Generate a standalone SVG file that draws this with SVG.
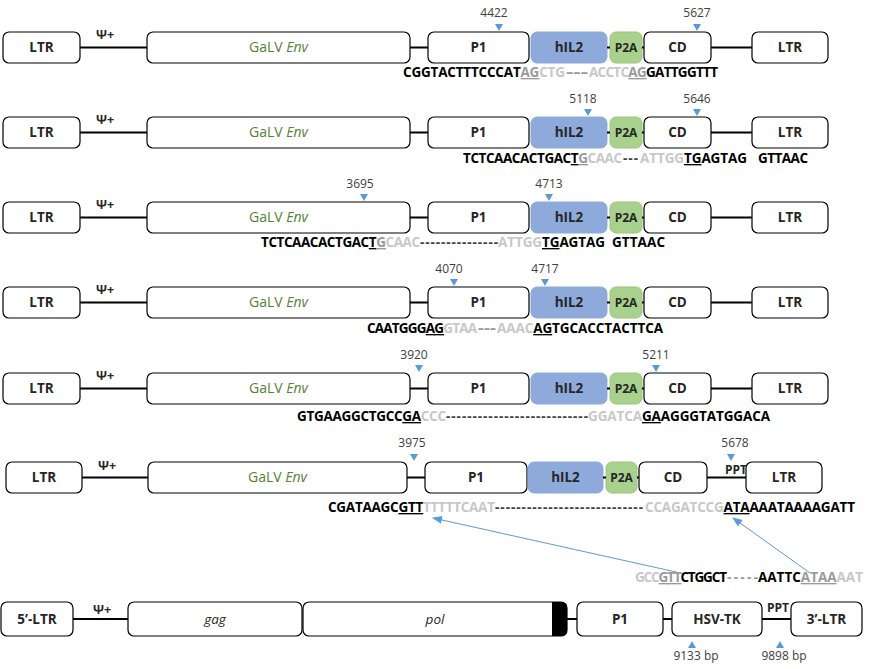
<svg xmlns="http://www.w3.org/2000/svg" width="883" height="669" viewBox="0 0 883 669">
<style>
text{font-family:"Open Sans","Noto Sans","Noto Sans CJK KR",sans-serif}
.box{fill:#fff;stroke:#000;stroke-width:1.2}
.il2{fill:#8eaadb;stroke:#8eaadb;stroke-width:1}
.p2a{fill:#a9d18e;stroke:#9cc47f;stroke-width:1}
.ln{stroke:#000;stroke-width:2.2;fill:none}
.lbl{font-size:13.5px;font-weight:bold;text-anchor:middle;fill:#262626}
.sm{font-size:12px}
.env{font-size:14px;text-anchor:middle;fill:#548235}
.psi{font-size:12.5px;font-weight:bold;text-anchor:middle;fill:#262626}
.num{font-size:12px;text-anchor:middle;fill:#404040}
.tri{fill:#5b9bd5}
.seq{font-size:13.5px;font-weight:bold}
.k{fill:#000}.g{fill:#9a9a9a}.lg{fill:#c8c8c8}.u{text-decoration:underline}
.d1{fill:#9a9a9a}.d2{fill:#444}
.it{font-style:italic;font-weight:normal}
.arr{stroke:#5b9bd5;stroke-width:1;fill:none}
</style>
<defs>
<marker id="ah" markerWidth="10" markerHeight="8" refX="9" refY="4" orient="auto" markerUnits="userSpaceOnUse"><path d="M0,0 L10,4 L0,8 Z" fill="#5b9bd5"/></marker>
</defs>

<!-- Row 1 -->
<g id="row1" transform="translate(0,32)">
<g id="r1-ltr5"><rect class="box" x="3" y="0" width="77" height="31" rx="6"/><text class="lbl" x="41.5" y="20">LTR</text></g>
<g id="r1-psi"><text class="psi" x="105" y="7">Ψ+</text></g>
<g id="r1-env"><rect class="box" x="147" y="0" width="263" height="31" rx="6"/><text class="env" x="278.5" y="20">GaLV <tspan font-style="italic">Env</tspan></text></g>
<g id="r1-p1"><rect class="box" x="428" y="0" width="101" height="31" rx="6"/><text class="lbl" x="478.5" y="20">P1</text></g>
<g id="r1-hil2"><rect class="il2" x="531" y="0" width="76" height="31" rx="6"/><text class="lbl" x="569" y="20">hIL2</text></g>
<g id="r1-p2a"><rect class="p2a" x="610" y="0" width="32" height="31" rx="6"/><text class="lbl sm" x="626" y="20">P2A</text></g>
<g id="r1-cd"><rect class="box" x="644" y="0" width="67" height="31" rx="6"/><text class="lbl" x="677.5" y="20">CD</text></g>
<g id="r1-ltr3"><rect class="box" x="752" y="0" width="76" height="31" rx="6"/><text class="lbl" x="790" y="20">LTR</text></g>
<g id="r1-marks"><text class="num" x="494" y="-15">4422</text><path class="tri" d="M495,-8 L503,-8 L499,-1 Z"/><text class="num" x="697" y="-15">5627</text><path class="tri" d="M693,-8 L701,-8 L697,-1 Z"/></g>
</g>

<!-- Row 2 -->
<g id="row2" transform="translate(0,117)">
<g id="r2-ltr5"><rect class="box" x="3" y="0" width="77" height="31" rx="6"/><text class="lbl" x="41.5" y="20">LTR</text></g>
<g id="r2-psi"><text class="psi" x="105" y="7">Ψ+</text></g>
<g id="r2-env"><rect class="box" x="147" y="0" width="263" height="31" rx="6"/><text class="env" x="278.5" y="20">GaLV <tspan font-style="italic">Env</tspan></text></g>
<g id="r2-p1"><rect class="box" x="428" y="0" width="101" height="31" rx="6"/><text class="lbl" x="478.5" y="20">P1</text></g>
<g id="r2-hil2"><rect class="il2" x="531" y="0" width="76" height="31" rx="6"/><text class="lbl" x="569" y="20">hIL2</text></g>
<g id="r2-p2a"><rect class="p2a" x="610" y="0" width="32" height="31" rx="6"/><text class="lbl sm" x="626" y="20">P2A</text></g>
<g id="r2-cd"><rect class="box" x="644" y="0" width="67" height="31" rx="6"/><text class="lbl" x="677.5" y="20">CD</text></g>
<g id="r2-ltr3"><rect class="box" x="752" y="0" width="76" height="31" rx="6"/><text class="lbl" x="790" y="20">LTR</text></g>
<g id="r2-marks"><text class="num" x="583" y="-14">5118</text><path class="tri" d="M584,-8 L592,-8 L588,-1 Z"/><text class="num" x="697" y="-14">5646</text><path class="tri" d="M693,-8 L701,-8 L697,-1 Z"/></g>
</g>

<!-- Row 3 -->
<g id="row3" transform="translate(0,202)">
<g id="r3-ltr5"><rect class="box" x="3" y="0" width="77" height="31" rx="6"/><text class="lbl" x="41.5" y="20">LTR</text></g>
<g id="r3-psi"><text class="psi" x="105" y="7">Ψ+</text></g>
<g id="r3-env"><rect class="box" x="147" y="0" width="263" height="31" rx="6"/><text class="env" x="278.5" y="20">GaLV <tspan font-style="italic">Env</tspan></text></g>
<g id="r3-p1"><rect class="box" x="428" y="0" width="101" height="31" rx="6"/><text class="lbl" x="478.5" y="20">P1</text></g>
<g id="r3-hil2"><rect class="il2" x="531" y="0" width="76" height="31" rx="6"/><text class="lbl" x="569" y="20">hIL2</text></g>
<g id="r3-p2a"><rect class="p2a" x="610" y="0" width="32" height="31" rx="6"/><text class="lbl sm" x="626" y="20">P2A</text></g>
<g id="r3-cd"><rect class="box" x="644" y="0" width="67" height="31" rx="6"/><text class="lbl" x="677.5" y="20">CD</text></g>
<g id="r3-ltr3"><rect class="box" x="752" y="0" width="76" height="31" rx="6"/><text class="lbl" x="790" y="20">LTR</text></g>
<g id="r3-marks"><text class="num" x="360" y="-14">3695</text><path class="tri" d="M360,-8 L368,-8 L364,-1 Z"/><text class="num" x="549" y="-14">4713</text><path class="tri" d="M545,-8 L553,-8 L549,-1 Z"/></g>
</g>

<!-- Row 4 -->
<g id="row4" transform="translate(0,287)">
<g id="r4-ltr5"><rect class="box" x="3" y="0" width="77" height="31" rx="6"/><text class="lbl" x="41.5" y="20">LTR</text></g>
<g id="r4-psi"><text class="psi" x="105" y="7">Ψ+</text></g>
<g id="r4-env"><rect class="box" x="147" y="0" width="263" height="31" rx="6"/><text class="env" x="278.5" y="20">GaLV <tspan font-style="italic">Env</tspan></text></g>
<g id="r4-p1"><rect class="box" x="428" y="0" width="101" height="31" rx="6"/><text class="lbl" x="478.5" y="20">P1</text></g>
<g id="r4-hil2"><rect class="il2" x="531" y="0" width="76" height="31" rx="6"/><text class="lbl" x="569" y="20">hIL2</text></g>
<g id="r4-p2a"><rect class="p2a" x="610" y="0" width="32" height="31" rx="6"/><text class="lbl sm" x="626" y="20">P2A</text></g>
<g id="r4-cd"><rect class="box" x="644" y="0" width="67" height="31" rx="6"/><text class="lbl" x="677.5" y="20">CD</text></g>
<g id="r4-ltr3"><rect class="box" x="752" y="0" width="76" height="31" rx="6"/><text class="lbl" x="790" y="20">LTR</text></g>
<g id="r4-marks"><text class="num" x="449" y="-14">4070</text><path class="tri" d="M450,-8 L458,-8 L454,-1 Z"/><text class="num" x="545" y="-14">4717</text><path class="tri" d="M541,-8 L549,-8 L545,-1 Z"/></g>
</g>

<!-- Row 5 -->
<g id="row5" transform="translate(0,373)">
<g id="r5-ltr5"><rect class="box" x="3" y="0" width="77" height="31" rx="6"/><text class="lbl" x="41.5" y="20">LTR</text></g>
<g id="r5-psi"><text class="psi" x="105" y="7">Ψ+</text></g>
<g id="r5-env"><rect class="box" x="147" y="0" width="263" height="31" rx="6"/><text class="env" x="278.5" y="20">GaLV <tspan font-style="italic">Env</tspan></text></g>
<g id="r5-p1"><rect class="box" x="428" y="0" width="101" height="31" rx="6"/><text class="lbl" x="478.5" y="20">P1</text></g>
<g id="r5-hil2"><rect class="il2" x="531" y="0" width="76" height="31" rx="6"/><text class="lbl" x="569" y="20">hIL2</text></g>
<g id="r5-p2a"><rect class="p2a" x="610" y="0" width="32" height="31" rx="6"/><text class="lbl sm" x="626" y="20">P2A</text></g>
<g id="r5-cd"><rect class="box" x="644" y="0" width="67" height="31" rx="6"/><text class="lbl" x="677.5" y="20">CD</text></g>
<g id="r5-ltr3"><rect class="box" x="752" y="0" width="76" height="31" rx="6"/><text class="lbl" x="790" y="20">LTR</text></g>
<g id="r5-marks"><text class="num" x="414" y="-14">3920</text><path class="tri" d="M415,-8 L423,-8 L419,-1 Z"/><text class="num" x="656" y="-14">5211</text><path class="tri" d="M652,-8 L660,-8 L656,-1 Z"/></g>
</g>

<!-- Row 6 -->
<g id="row6" transform="translate(0,462)">
<g id="r6-ltr5"><rect class="box" x="6" y="0" width="76" height="31" rx="6"/><text class="lbl" x="44" y="20">LTR</text></g>
<g id="r6-psi"><text class="psi" x="107" y="8">Ψ+</text></g>
<g id="r6-env"><rect class="box" x="148" y="0" width="259" height="31" rx="6"/><text class="env" x="277.5" y="20">GaLV <tspan font-style="italic">Env</tspan></text></g>
<g id="r6-p1"><rect class="box" x="425" y="0" width="102" height="31" rx="6"/><text class="lbl" x="476" y="20">P1</text></g>
<g id="r6-hil2"><rect class="il2" x="528" y="0" width="75" height="31" rx="6"/><text class="lbl" x="565.5" y="20">hIL2</text></g>
<g id="r6-p2a"><rect class="p2a" x="606" y="0" width="31" height="31" rx="6"/><text class="lbl sm" x="621.5" y="20">P2A</text></g>
<g id="r6-cd"><rect class="box" x="639" y="0" width="68" height="31" rx="6"/><text class="lbl" x="673" y="20">CD</text></g>
<g id="r6-ppt"><text class="lbl sm" x="736" y="12">PPT</text></g>
<g id="r6-ltr3"><rect class="box" x="746" y="0" width="76" height="31" rx="6"/><text class="lbl" x="784" y="20">LTR</text></g>
<g id="r6-marks"><text class="num" x="412" y="-15">3975</text><path class="tri" d="M410,-8 L418,-8 L414,-1 Z"/><text class="num" x="735" y="-15">5678</text><path class="tri" d="M727,-8 L735,-8 L731,-1 Z"/></g>
</g>

<!-- Bottom row (packaging construct) -->
<g id="row7">
<g id="b-ltr5"><rect class="box" x="1" y="602" width="72" height="34" rx="6"/><text class="lbl" x="37" y="624">5’-LTR</text></g>
<g id="b-psi"><text class="psi" x="102" y="614" font-weight="normal">Ψ+</text></g>
<g id="b-gag"><rect class="box" x="128" y="602" width="174" height="34" rx="6"/><text class="lbl it" x="215" y="624">gag</text></g>
<g id="b-pol"><rect class="box" x="303" y="602" width="264" height="34" rx="6"/><path d="M552,602 H561 Q567,602 567,608 V630 Q567,636 561,636 H552 Z" fill="#000"/><text class="lbl it" x="435" y="624">pol</text></g>
<g id="b-p1"><rect class="box" x="577" y="602" width="86" height="34" rx="6"/><text class="lbl" x="620" y="624">P1</text></g>
<g id="b-tk"><rect class="box" x="672" y="602" width="90" height="34" rx="6"/><text class="lbl" x="717" y="624">HSV-TK</text></g>
<g id="b-ppt"><text class="lbl sm" x="778" y="612">PPT</text></g>
<g id="b-ltr3"><rect class="box" x="791" y="602" width="71" height="34" rx="6"/><text class="lbl" x="826.5" y="624">3’-LTR</text></g>
<g id="b-marks"><path class="tri" d="M688,648 L696,648 L692,641 Z"/><text class="num" x="696" y="660">9133 bp</text><path class="tri" d="M776,648 L784,648 L780,641 Z"/><text class="num" x="784" y="660">9898 bp</text></g>
</g>

<!-- Connectors -->
<g id="connectors">
<path class="ln" d="M80,47.5H147M410,47.5H428M607,47.5H610M642,47.5H644M711,47.5H752"/>
<path class="ln" d="M80,132.5H147M410,132.5H428M607,132.5H610M642,132.5H644M711,132.5H752"/>
<path class="ln" d="M80,217.5H147M410,217.5H428M607,217.5H610M642,217.5H644M711,217.5H752"/>
<path class="ln" d="M80,302.5H147M410,302.5H428M607,302.5H610M642,302.5H644M711,302.5H752"/>
<path class="ln" d="M80,388.5H147M410,388.5H428M607,388.5H610M642,388.5H644M711,388.5H752"/>
<path class="ln" d="M82,477.5H148M407,477.5H425M603,477.5H606M637,477.5H639M707,477.5H746"/>
<path class="ln" d="M73,619H128M567,619H577M663,619H672M762,619H791"/>
<path class="arr" d="M685,574L433,518" marker-end="url(#ah)"/>
<path class="arr" d="M810,573L733,518" marker-end="url(#ah)"/>
</g>

<!-- Sequences -->
<g id="sequences" class="seq">
<text class="seq" x="403" y="77" textLength="162"><tspan class="k">CGGTACTTTCCCAT</tspan><tspan class="g u">AG</tspan><tspan class="lg">CTG</tspan></text>
<text class="seq d1" x="566" y="77" textLength="22" lengthAdjust="spacingAndGlyphs">---</text>
<text class="seq" x="589" y="77" textLength="129"><tspan class="lg">ACCTC</tspan><tspan class="g u">AG</tspan><tspan class="k">GATTGGTTT</tspan></text>

<text class="seq" x="463" y="163" textLength="159"><tspan class="k">TCTCAACACTGAC</tspan><tspan class="k u">T</tspan><tspan class="g u">G</tspan><tspan class="lg">CAAC</tspan></text>
<text class="seq d2" x="623" y="163" textLength="15">---</text>
<text class="seq" x="640" y="163" textLength="107"><tspan class="lg">ATTGG</tspan><tspan class="k u">TG</tspan><tspan class="k">AGTAG</tspan></text>
<text class="seq k" x="758" y="163" textLength="50">GTTAAC</text>

<text class="seq" x="261" y="247" textLength="159"><tspan class="k">TCTCAACACTGAC</tspan><tspan class="k u">T</tspan><tspan class="g u">G</tspan><tspan class="lg">CAAC</tspan></text>
<text class="seq d2" x="420" y="247" textLength="78">---------------</text>
<text class="seq" x="498" y="247" textLength="107"><tspan class="lg">ATTGG</tspan><tspan class="k u">TG</tspan><tspan class="k">AGTAG</tspan></text>
<text class="seq k" x="612" y="247" textLength="53">GTTAAC</text>

<text class="seq" x="367" y="333" textLength="110"><tspan class="k">CAATGGG</tspan><tspan class="k u">AG</tspan><tspan class="lg">GTAA</tspan></text>
<text class="seq d1" x="478" y="333" textLength="18" lengthAdjust="spacingAndGlyphs">---</text>
<text class="seq" x="497" y="333" textLength="166"><tspan class="lg">AAAC</tspan><tspan class="k u">AG</tspan><tspan class="k">TGCACCTACTTCA</tspan></text>

<text class="seq" x="297" y="421" textLength="149"><tspan class="k">GTGAAGGCTGCC</tspan><tspan class="k u">GA</tspan><tspan class="lg">CCC</tspan></text>
<text class="seq d2" x="446" y="421" textLength="142">---------------------------</text>
<text class="seq" x="588" y="421" textLength="182"><tspan class="lg">GGATCA</tspan><tspan class="k u">GA</tspan><tspan class="k">AGGGTATGGACA</tspan></text>

<text class="seq" x="328" y="512" textLength="167"><tspan class="k">CGATAAGC</tspan><tspan class="k u">GTT</tspan><tspan class="lg">TTTTTCAAT</tspan></text>
<text class="seq d2" x="495" y="512" textLength="148">----------------------------</text>
<text class="seq" x="645" y="512" textLength="210"><tspan class="lg">CCAGATCCG</tspan><tspan class="k u">ATA</tspan><tspan class="k">AAATAAAAGATT</tspan></text>

<text class="seq" x="635" y="582" textLength="92"><tspan class="lg">GCC</tspan><tspan class="g u">GTT</tspan><tspan class="k">CTGGCT</tspan></text>
<text class="seq g" x="727" y="582" textLength="31" font-weight="normal">-----</text>
<text class="seq" x="758" y="582" textLength="105"><tspan class="k">AATTC</tspan><tspan class="g u">ATAA</tspan><tspan class="lg">AAT</tspan></text>
</g>
</svg>
